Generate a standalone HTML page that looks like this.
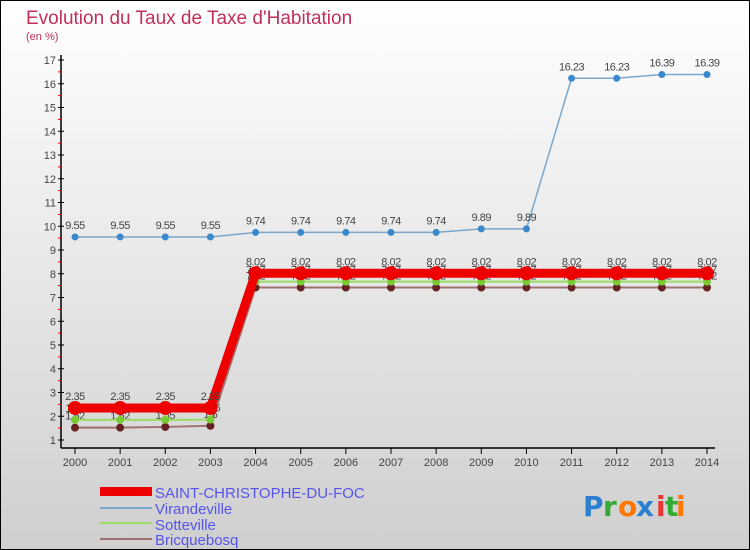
<!DOCTYPE html>
<html><head><meta charset="utf-8"><style>
body{margin:0}
#c{width:750px;height:550px;position:relative;background:linear-gradient(#fff,#cfcfcf);border:1px solid #000;box-sizing:border-box;font-family:"Liberation Sans",sans-serif;overflow:hidden}
</style></head><body>
<div id="c">
<svg id="s" width="750" height="550" style="position:absolute;left:-1px;top:-1px">
<text x="26" y="24" font-size="19" fill="#c0305a">Evolution du Taux de Taxe d'Habitation</text>
<text x="26" y="40" font-size="11" fill="#c0305a">(en %)</text>
<g id="axes"></g><g id="series"></g>
<g>
<rect x="100" y="487" width="52" height="9" fill="#e00"/>
<text x="155" y="498" font-size="15" fill="#5555ee">SAINT-CHRISTOPHE-DU-FOC</text>
<rect x="100" y="507" width="52" height="2" fill="#7aa8cc"/>
<text x="155" y="514" font-size="15" fill="#5555ee">Virandeville</text>
<rect x="100" y="522" width="52" height="2" fill="#99dd66"/>
<text x="155" y="530" font-size="15" fill="#5555ee">Sotteville</text>
<rect x="100" y="538" width="52" height="2" fill="#a07070"/>
<text x="155" y="545" font-size="15" fill="#5555ee">Bricquebosq</text>
</g>
<g font-size="28" font-family="'DejaVu Sans',sans-serif" font-weight="bold">
<text x="583" y="516" fill="#2a7fd0">P</text><text x="603" y="516" fill="#33aa33">r</text><text x="618" y="516" fill="#ff7700">o</text><text x="636" y="516" fill="#2a7fd0">x</text><text x="656" y="516" fill="#ee3333">i</text><text x="665" y="516" fill="#33aa33">t</text><text x="676" y="516" fill="#ff7700">i</text>
</g>
</svg>
</div>
<script>
const years=[2000,2001,2002,2003,2004,2005,2006,2007,2008,2009,2010,2011,2012,2013,2014];
const yTicks=[1,2,3,4,5,6,7,8,9,10,11,12,13,14,15,16,17];
const saint=[2.35,2.35,2.35,2.35,8.02,8.02,8.02,8.02,8.02,8.02,8.02,8.02,8.02,8.02,8.02];
const viran=[9.55,9.55,9.55,9.55,9.74,9.74,9.74,9.74,9.74,9.89,9.89,16.23,16.23,16.39,16.39];
const sotte=[1.85,1.85,1.85,1.86,7.67,7.67,7.67,7.67,7.67,7.67,7.67,7.67,7.67,7.67,7.67];
const bricq=[1.52,1.52,1.55,1.6,7.42,7.42,7.42,7.42,7.42,7.42,7.42,7.42,7.42,7.42,7.42];
const NS="http://www.w3.org/2000/svg";
const X=i=>75+i*(707-75)/(years.length-1);
const Y=v=>60+(17-v)*23.75;
function mk(t,a,p){const e=document.createElementNS(NS,t);for(const k in a)e.setAttribute(k,a[k]);p.appendChild(e);return e;}
const ax=document.getElementById('axes'),sg=document.getElementById('series');
let yl=mk('line',{x1:61,y1:55,x2:61,y2:448,stroke:'#000','stroke-width':1.5},ax);


let xl=mk('line',{x1:61,y1:448,x2:715,y2:448,stroke:'#000','stroke-width':1.5},ax);


yTicks.forEach(v=>{
 mk('line',{x1:58,x2:64,y1:Y(v),y2:Y(v),stroke:'#000'},ax);
 if(v<17) mk('line',{x1:58,x2:61,y1:Y(v+0.5),y2:Y(v+0.5),stroke:'#e00'},ax);
 const t=mk('text',{x:56,y:Y(v)+4,'font-size':11,fill:'#444','text-anchor':'end'},ax);t.textContent=v;
 
 
});
years.forEach((y,i)=>{
 mk('line',{x1:X(i),x2:X(i),y1:448,y2:454,stroke:'#000'},ax);
 const t=mk('text',{x:X(i),y:466,'font-size':11,fill:'#444','text-anchor':'middle'},ax);t.textContent=y;
 
 
});
function series(d,col,w,r,dot,name,lbl){
 const g=mk('g',{},sg);
 
 
 mk('polyline',{points:d.map((v,i)=>X(i)+','+Y(v)).join(' '),fill:'none',stroke:col,'stroke-width':w},g);
 d.forEach((v,i)=>{
  const c=mk('circle',{cx:X(i),cy:Y(v),r:r,fill:dot},g);
  
  
  if(lbl){const t=mk('text',{x:X(i),y:Y(v)-8,'font-size':11,fill:'#444','text-anchor':'middle','letter-spacing':'-0.5'},g);t.textContent=v;}
 });
}
series(bricq,'#a07070',2,4,'#662222','series-bricquebosq',true);
series(sotte,'#99dd66',2,4,'#77cc33','series-sotteville',true);
series(saint,'#ee0000',9,7,'#ee0000','series-saint-christophe',true);
series(viran,'#7aa8cc',1.5,3.5,'#3a88cc','series-virandeville',true);
</script>
</body></html>
